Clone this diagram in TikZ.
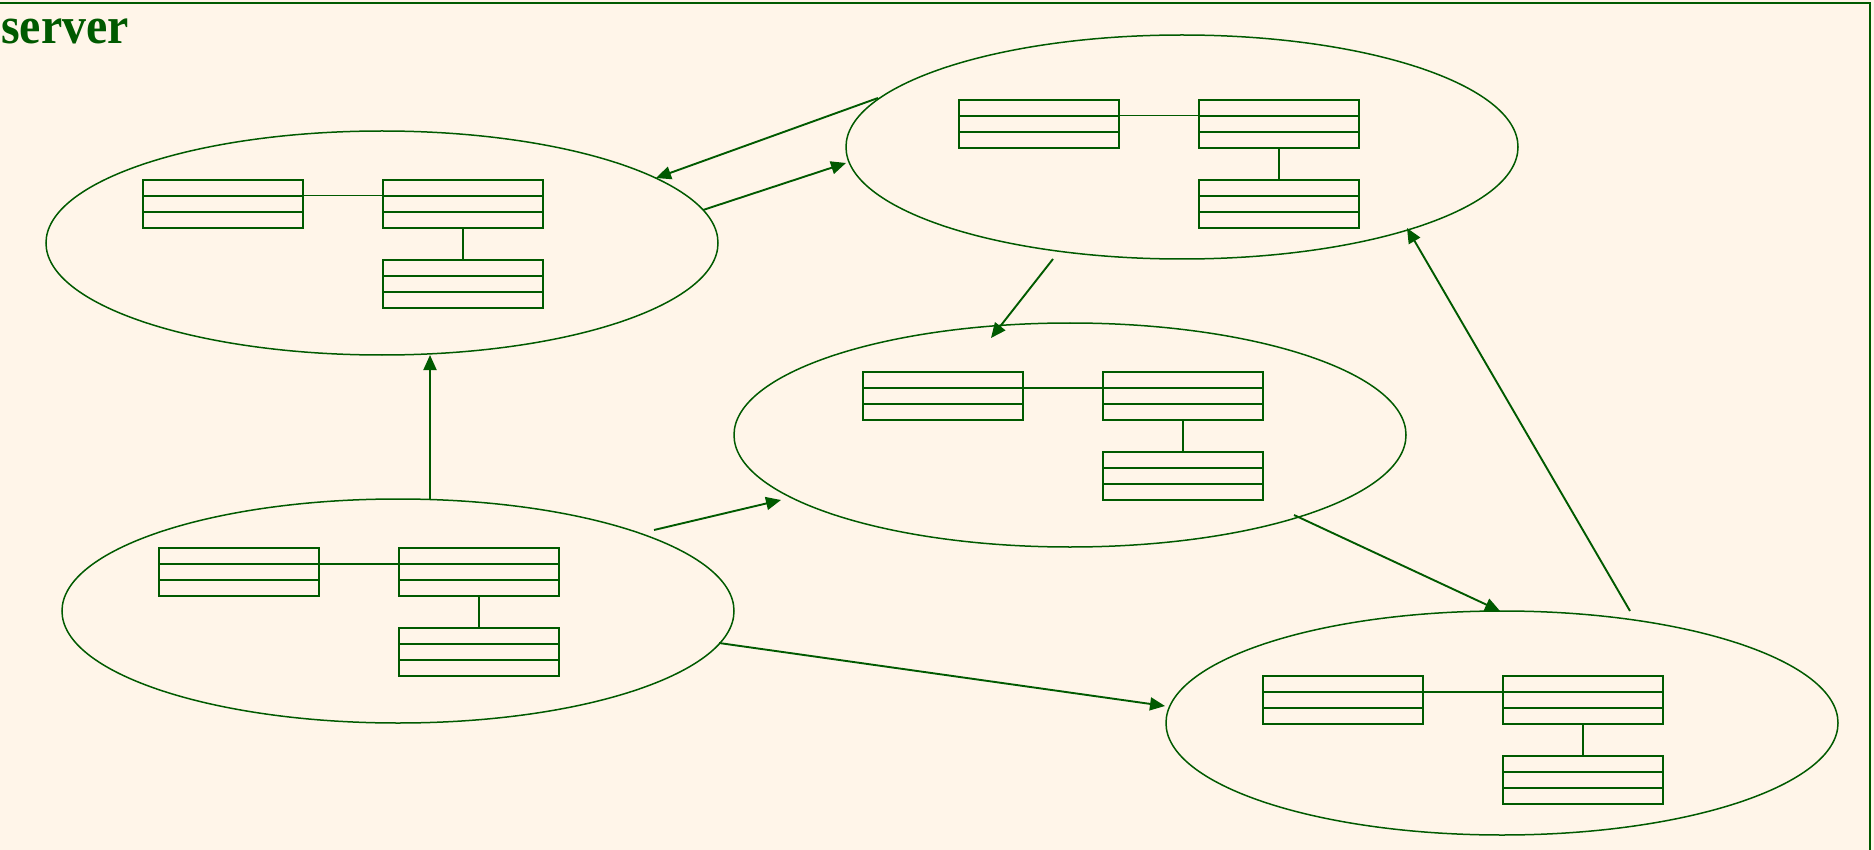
\documentclass[tikz,border=0pt]{standalone}
\usepackage{fontspec}
\setmainfont{Liberation Serif}
\usetikzlibrary{shapes.geometric,arrows.meta,calc}
\definecolor{dg}{HTML}{005A00}
\definecolor{bgc}{HTML}{FFF5E9}
\tikzset{
  region/.style={draw=dg, ellipse, line width=1.5pt, minimum width=672pt, minimum height=224pt, inner sep=0pt},
  classbox/.style={draw=dg, rectangle, line width=1.8pt, minimum width=160pt, minimum height=48pt, inner sep=0pt, anchor=north west,
    path picture={
      \draw[dg, line width=1.8pt] ($(path picture bounding box.north west)!1/3!(path picture bounding box.south west)$) -- ($(path picture bounding box.north east)!1/3!(path picture bounding box.south east)$);
      \draw[dg, line width=1.8pt] ($(path picture bounding box.north west)!2/3!(path picture bounding box.south west)$) -- ($(path picture bounding box.north east)!2/3!(path picture bounding box.south east)$);
    }},
  assoc/.style={draw=dg, line width=1.8pt},
  flow/.style={draw=dg, line width=1.9pt, -{Triangle[length=15pt,width=13pt]}},
  frameline/.style={draw=dg, line width=1.8pt}
}
\newcommand{\classgroup}[3]{%
  \node[classbox] (#1a) at (#2,#3) {};
  \node[classbox] (#1b) at (#2+240,#3) {};
  \node[classbox] (#1c) at (#2+240,#3+80) {};
  \draw[assoc] ($(#1a.north east)!1/3!(#1a.south east)$) -- ($(#1b.north west)!1/3!(#1b.south west)$);
  \draw[assoc] (#1b.south) -- (#1c.north);
}
\begin{document}
\begin{tikzpicture}[x=1pt,y=-1pt]
\fill[bgc] (0,0) rectangle (1874,850);
\useasboundingbox (0,0) rectangle (1874,850);
\coordinate (fl) at (0,3);
\coordinate (fc) at (1870,3);
\coordinate (fb) at (1870,850);
\draw[frameline] (fl) -- (fc) -- (fb);
\node[anchor=base west, text=dg, inner sep=0pt] (title) at (1,44) {\scalebox{0.92}[1]{\fontsize{52}{60}\selectfont\bfseries server}};
% regions
\node[region] (e1) at (382,243) {};
\node[region] (e2) at (1182,147) {};
\node[region] (e3) at (1070,435) {};
\node[region] (e4) at (398,611) {};
\node[region] (e5) at (1502,723) {};
% class groups
\classgroup{g1}{142}{179}
\classgroup{g2}{958}{99}
\classgroup{g3}{862}{371}
\classgroup{g4}{158}{547}
\classgroup{g5}{1262}{675}
% arrow end points
\coordinate (a1s) at (878,98);   \coordinate (a1e) at (656,178);
\coordinate (a2s) at (703,210);  \coordinate (a2e) at (846,163);
\coordinate (a3s) at (1053,259); \coordinate (a3e) at (991,338);
\coordinate (a4s) at (430,499);  \coordinate (a4e) at (430,355);
\coordinate (a5s) at (654,530);  \coordinate (a5e) at (781,500);
\coordinate (a6s) at (719,643);  \coordinate (a6e) at (1165,706);
\coordinate (a7s) at (1294,515); \coordinate (a7e) at (1500,611);
\coordinate (a8s) at (1630,611); \coordinate (a8e) at (1407,228);
\draw[flow] (a1s) -- (a1e);
\draw[flow] (a2s) -- (a2e);
\draw[flow] (a3s) -- (a3e);
\draw[flow] (a4s) -- (a4e);
\draw[flow] (a5s) -- (a5e);
\draw[flow] (a6s) -- (a6e);
\draw[flow] (a7s) -- (a7e);
\draw[flow] (a8s) -- (a8e);
\end{tikzpicture}
\end{document}
